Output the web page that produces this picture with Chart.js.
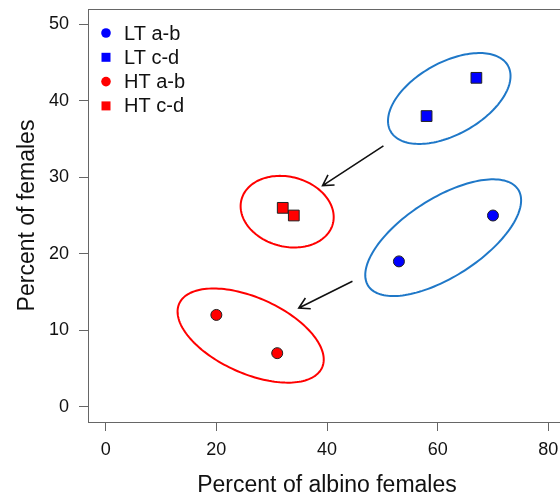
<!DOCTYPE html>
<html>
<head>
<meta charset="utf-8">
<script src="https://cdn.jsdelivr.net/npm/chart.js@4.4.1/dist/chart.umd.min.js"></script>
<style>
  html, body { margin: 0; padding: 0; background: #fff; overflow: hidden; }
  #wrap { width: 600px; height: 499px; }
</style>
</head>
<body>
<div id="wrap"><canvas id="plot" width="600" height="499"></canvas></div>
<script>
// Group values: [percent of albino females, percent of females]
const ltAB = [[53, 19], [70, 25]];
const ltCD = [[58, 38], [67, 43]];
const htAB = [[20, 12], [31, 7]];
const htCD = [[32, 26], [34, 25]];

const seriesNames = ["LT a-b", "LT c-d", "HT a-b", "HT c-d"];
const xTicks = [0, 20, 40, 60, 80];
const yTicks = [0, 10, 20, 30, 40, 50];

// Group ellipses: centre plus two conjugate semi-axes, in data units
const ellipseCentres = [[62.1, 40.3], [61.0, 22.1], [32.8, 25.5], [26.2, 9.3]];
const ellipseAxisU = [[10.6, 4.3], [13.55, 6.3], [8.25, -1.6], [12.9, -4.2]];
const ellipseAxisV = [[3.2, -4.1], [3.85, -4.3], [-1.64, -4.4], [-2.85, -4.5]];

// Shift arrows LT -> HT, from / to in data units
const arrowFrom = [[50.2, 34.1], [44.6, 16.4]];
const arrowTo = [[39.2, 28.9], [34.9, 12.9]];

const BLUE = "#0000ff";
const RED = "#ff0000";
const ellipseColours = ["#1f78c8", "#1f78c8", RED, RED];
const FONT = "'Liberation Sans', Arial, Helvetica, sans-serif";

const toXY = arr => arr.map(([x, y]) => ({ x, y }));

const overlay = {
    id: "overlay",
    beforeDatasetsDraw(chart) {
        const { ctx, scales: { x, y } } = chart;
        ctx.save();
        ctx.lineWidth = 2;
        ellipseCentres.forEach((c, i) => {
            const u = ellipseAxisU[i], v = ellipseAxisV[i];
            ctx.beginPath();
            for (let k = 0; k <= 160; k++) {
                const t = k / 160 * Math.PI * 2;
                const px = x.getPixelForValue(c[0] + u[0] * Math.cos(t) + v[0] * Math.sin(t));
                const py = y.getPixelForValue(c[1] + u[1] * Math.cos(t) + v[1] * Math.sin(t));
                if (k) ctx.lineTo(px, py); else ctx.moveTo(px, py);
            }
            ctx.closePath();
            ctx.strokeStyle = ellipseColours[i];
            ctx.stroke();
        });

        // arrows with open heads
        ctx.strokeStyle = "#111";
        ctx.lineWidth = 1.6;
        arrowFrom.forEach((f, i) => {
            const x0 = x.getPixelForValue(f[0]), y0 = y.getPixelForValue(f[1]);
            const x1 = x.getPixelForValue(arrowTo[i][0]), y1 = y.getPixelForValue(arrowTo[i][1]);
            const ang = Math.atan2(y1 - y0, x1 - x0);
            const head = 12, spread = Math.PI / 6;
            ctx.beginPath();
            ctx.moveTo(x0, y0);
            ctx.lineTo(x1, y1);
            ctx.moveTo(x1 - head * Math.cos(ang - spread), y1 - head * Math.sin(ang - spread));
            ctx.lineTo(x1, y1);
            ctx.lineTo(x1 - head * Math.cos(ang + spread), y1 - head * Math.sin(ang + spread));
            ctx.stroke();
        });
        ctx.restore();
    },
    afterDraw(chart) {
        const { ctx, chartArea: a } = chart;
        ctx.save();
        // plot frame
        ctx.strokeStyle = "#666";
        ctx.lineWidth = 1;
        ctx.strokeRect(a.left + 0.5, a.top + 0.5, a.right - a.left, a.bottom - a.top);

        // legend, top-left inside the frame
        ctx.font = "20px " + FONT;
        ctx.textBaseline = "middle";
        chart.data.datasets.forEach((ds, i) => {
            const cx = a.left + 18, cy = a.top + 24 + i * 24.3;
            ctx.fillStyle = ds.backgroundColor;
            ctx.beginPath();
            if (ds.pointStyle === "rect") ctx.rect(cx - 4.5, cy - 4.5, 9, 9);
            else ctx.arc(cx, cy, 4.8, 0, Math.PI * 2);
            ctx.fill();
            ctx.fillStyle = "#111";
            ctx.fillText(ds.label, a.left + 36, cy + 1);
        });
        ctx.restore();
    }
};

const axisGrid = { drawOnChartArea: false, drawTicks: true, tickLength: 9, color: "#666", tickColor: "#666" };

new Chart(document.getElementById("plot"), {
    type: "scatter",
    data: {
        datasets: [
            { label: seriesNames[0], data: toXY(ltAB), pointStyle: "circle", pointRadius: 5.5, backgroundColor: BLUE, borderColor: "#222", borderWidth: 1 },
            { label: seriesNames[1], data: toXY(ltCD), pointStyle: "rect", pointRadius: 7.6, backgroundColor: BLUE, borderColor: "#222", borderWidth: 1 },
            { label: seriesNames[2], data: toXY(htAB), pointStyle: "circle", pointRadius: 5.5, backgroundColor: RED, borderColor: "#222", borderWidth: 1 },
            { label: seriesNames[3], data: toXY(htCD), pointStyle: "rect", pointRadius: 7.6, backgroundColor: RED, borderColor: "#222", borderWidth: 1 }
        ]
    },
    options: {
        responsive: false,
        animation: false,
        layout: { padding: { left: 0, top: 9, right: 34, bottom: 0 } },
        plugins: {
            legend: { display: false },
            tooltip: { enabled: false }
        },
        scales: {
            x: {
                type: "linear",
                min: -3.2,
                max: 83.2,
                afterBuildTicks: s => { s.ticks = xTicks.map(v => ({ value: v })); },
                afterFit: s => { s.height = 77; s.paddingLeft = 0; s.paddingRight = 0; },
                grid: axisGrid,
                border: { display: false },
                ticks: { autoSkip: false, maxRotation: 0, padding: 8, color: "#111", font: { size: 18, family: FONT } },
                title: { display: true, text: "Percent of albino females", color: "#111", padding: { top: 0, bottom: 0 }, font: { size: 23, family: FONT } }
            },
            y: {
                type: "linear",
                min: -2,
                max: 52,
                afterBuildTicks: s => { s.ticks = yTicks.map(v => ({ value: v })); },
                afterFit: s => { s.width = 88; s.paddingTop = 0; s.paddingBottom = 0; },
                grid: axisGrid,
                border: { display: false },
                ticks: { autoSkip: false, padding: 10, color: "#111", font: { size: 18, family: FONT } },
                title: { display: true, text: "Percent of females", color: "#111", padding: { top: 14, bottom: 0 }, font: { size: 23, family: FONT } }
            }
        }
    },
    plugins: [overlay]
});
</script>
</body>
</html>
